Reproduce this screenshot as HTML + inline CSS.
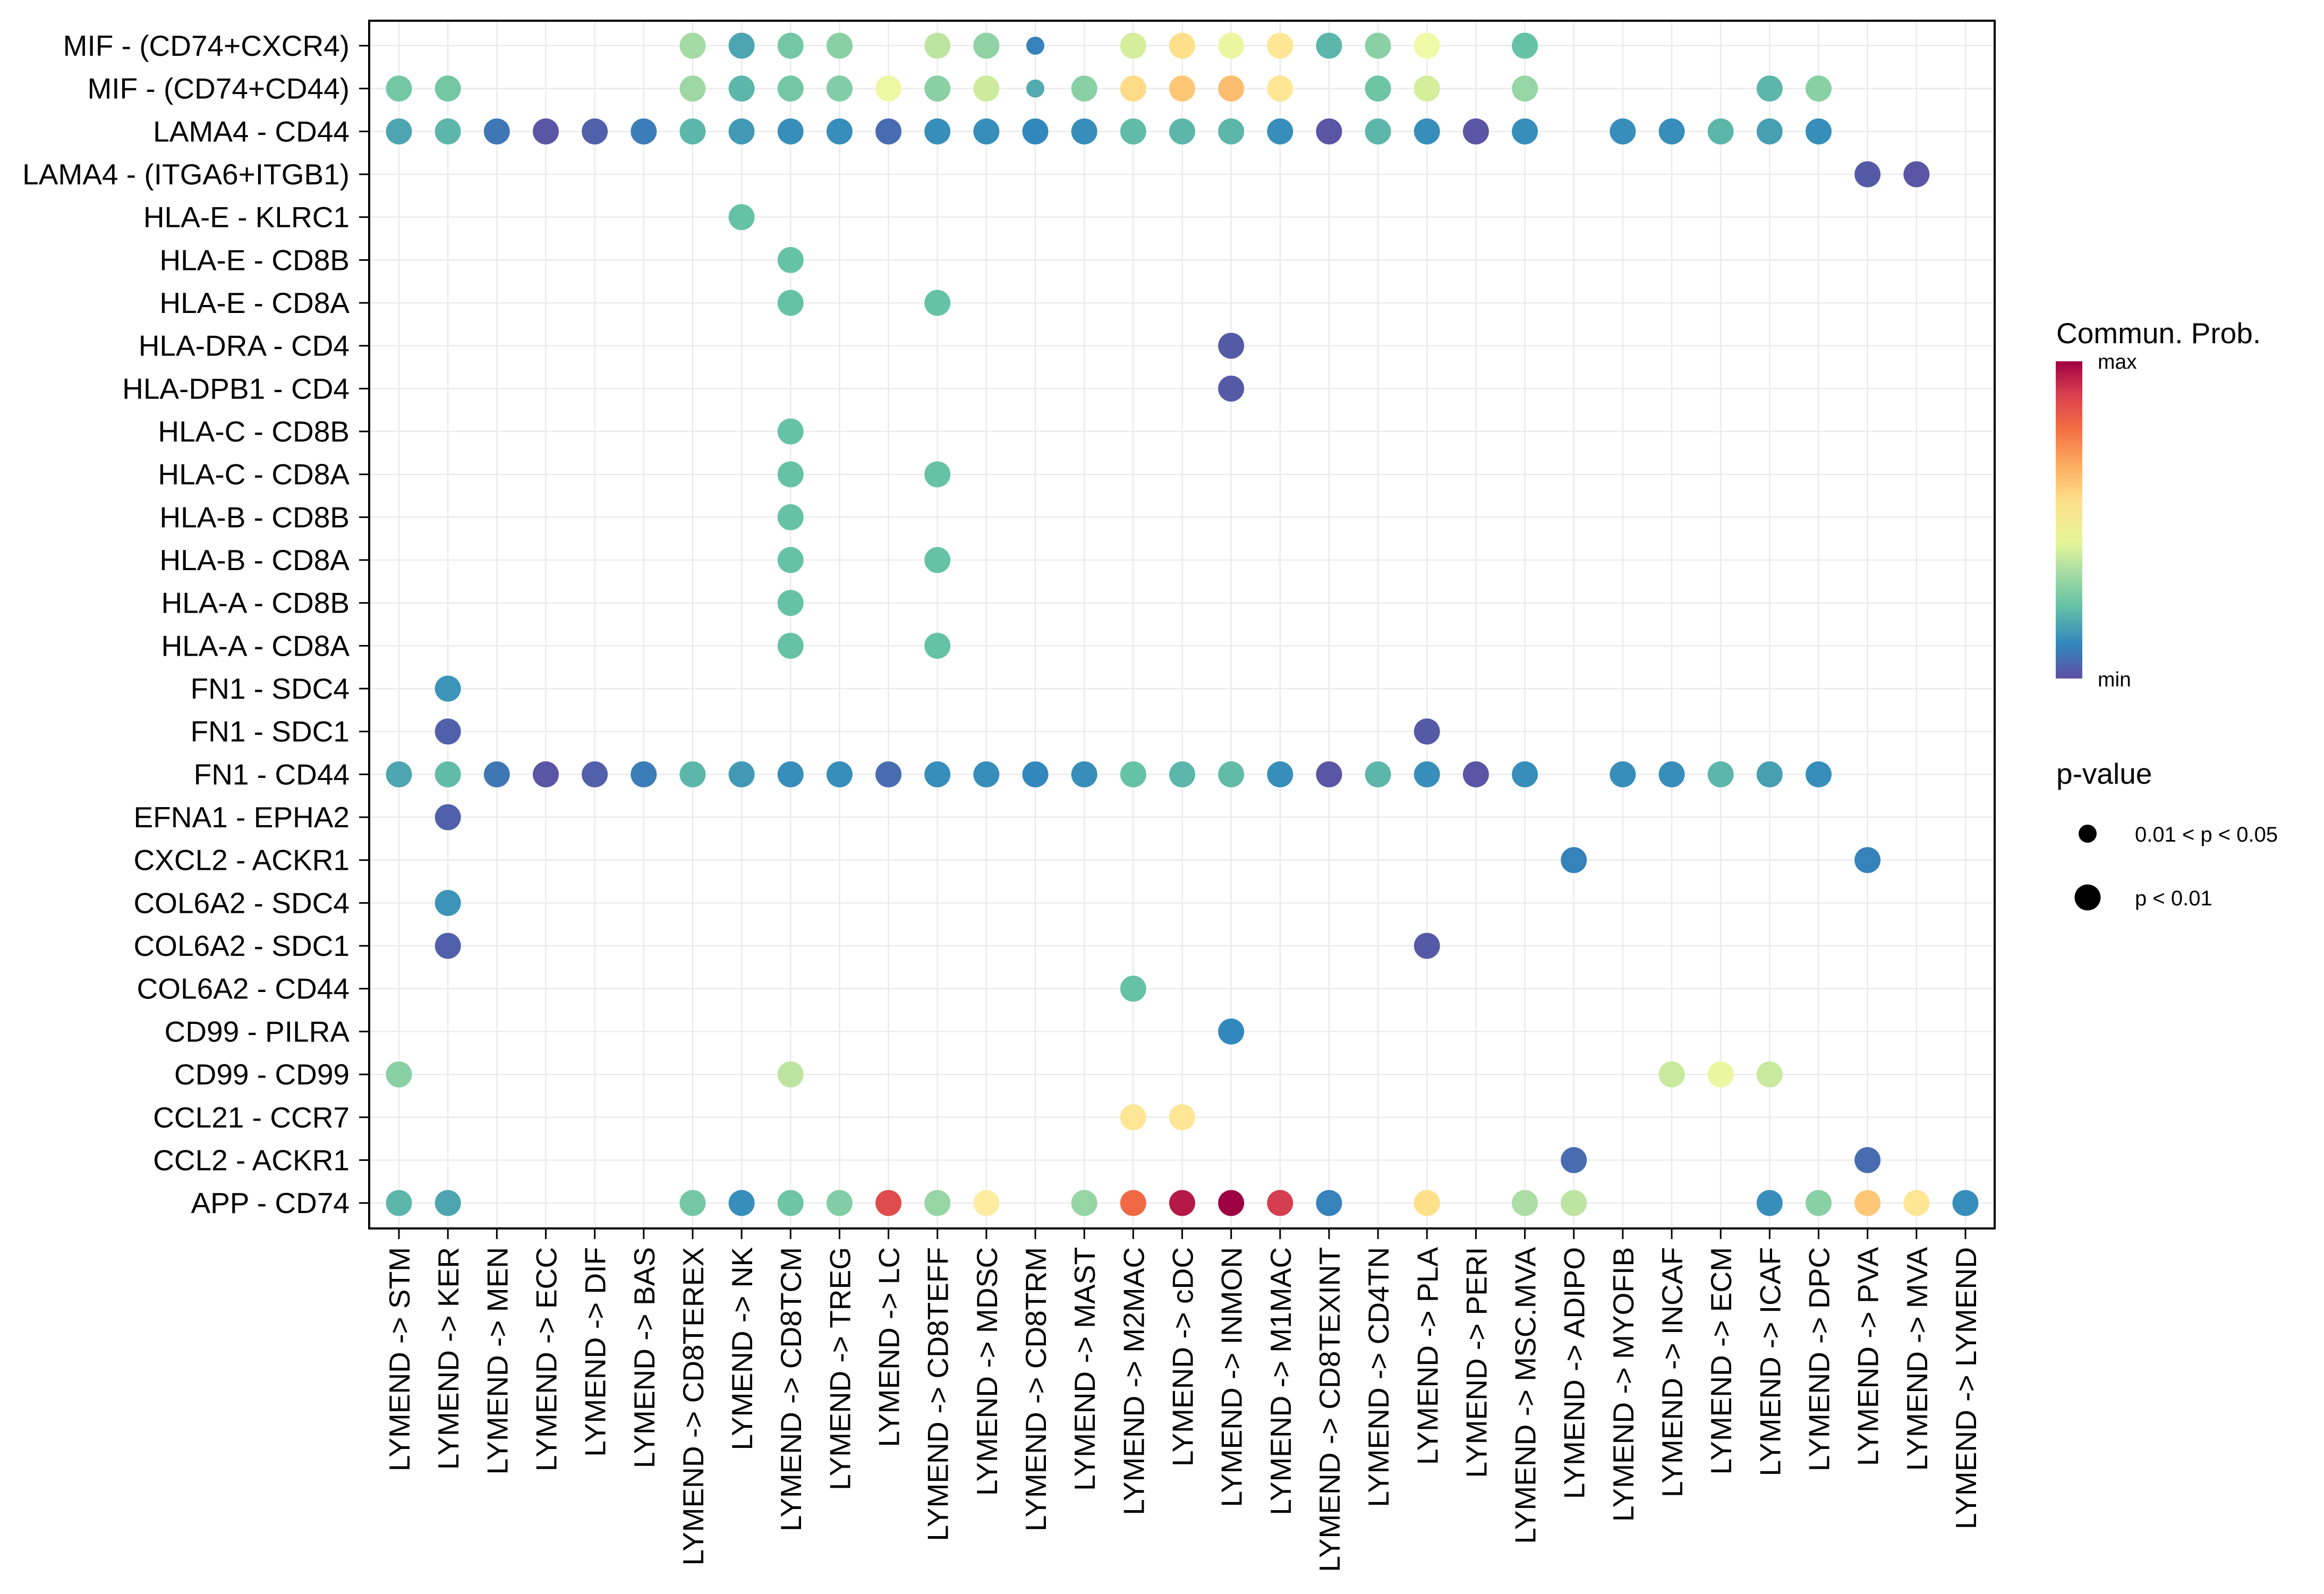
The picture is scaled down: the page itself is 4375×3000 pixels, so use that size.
<!DOCTYPE html>
<html><head><meta charset="utf-8"><style>
html,body{margin:0;padding:0;background:#fff;}
svg{display:block;font-family:"Liberation Sans",sans-serif;}
</style></head><body>
<svg id="chart" width="4375" height="3000" viewBox="0 0 4375 3000" xmlns="http://www.w3.org/2000/svg">
<defs>
<linearGradient id="spec" x1="0" y1="0" x2="0" y2="1">
<stop offset="0" stop-color="#9E0142"/><stop offset="0.1" stop-color="#D53E4F"/>
<stop offset="0.21" stop-color="#F46D43"/><stop offset="0.33" stop-color="#FDAE61"/>
<stop offset="0.44" stop-color="#FEE08B"/><stop offset="0.57" stop-color="#E6F598"/>
<stop offset="0.66" stop-color="#ABDDA4"/><stop offset="0.77" stop-color="#66C2A5"/>
<stop offset="0.89" stop-color="#3288BD"/><stop offset="1" stop-color="#5E4FA2"/>
</linearGradient>
</defs>
<g id="grid"></g>
<g id="dots"></g>
<rect x="695" y="39" width="3060" height="2273" fill="none" stroke="#000" stroke-width="4"/>
<g id="yaxis"></g>
<g id="xaxis"></g>
<g>
<text x="3871" y="646" font-size="55">Commun. Prob.</text>
<rect x="3870" y="680" width="50" height="597" fill="url(#spec)"/>
<text x="3949" y="694" font-size="39">max</text>
<text x="3949" y="1292" font-size="39">min</text>
</g>
<g>
<text x="3871" y="1475" font-size="55">p-value</text>
<circle cx="3930" cy="1569" r="17" fill="#000"/>
<text x="4019" y="1584" font-size="40">0.01 &lt; p &lt; 0.05</text>
<circle cx="3930" cy="1689" r="24.5" fill="#000"/>
<text x="4019" y="1704" font-size="40">p &lt; 0.01</text>
</g>
</svg>
<script>
const cols = ["STM","KER","MEN","ECC","DIF","BAS","CD8TEREX","NK","CD8TCM","TREG","LC","CD8TEFF","MDSC","CD8TRM","MAST","M2MAC","cDC","INMON","M1MAC","CD8TEXINT","CD4TN","PLA","PERI","MSC.MVA","ADIPO","MYOFIB","INCAF","ECM","ICAF","DPC","PVA","MVA","LYMEND"];
const rows = ["MIF - (CD74+CXCR4)","MIF - (CD74+CD44)","LAMA4 - CD44","LAMA4 - (ITGA6+ITGB1)","HLA-E - KLRC1","HLA-E - CD8B","HLA-E - CD8A","HLA-DRA - CD4","HLA-DPB1 - CD4","HLA-C - CD8B","HLA-C - CD8A","HLA-B - CD8B","HLA-B - CD8A","HLA-A - CD8B","HLA-A - CD8A","FN1 - SDC4","FN1 - SDC1","FN1 - CD44","EFNA1 - EPHA2","CXCL2 - ACKR1","COL6A2 - SDC4","COL6A2 - SDC1","COL6A2 - CD44","CD99 - PILRA","CD99 - CD99","CCL21 - CCR7","CCL2 - ACKR1","APP - CD74"];
const ptRow = [
0,0,0,0,0,0,0,0,0,0,0,0,0,0,0,
1,1,1,1,1,1,1,1,1,1,1,1,1,1,1,1,1,1,1,1,
2,2,2,2,2,2,2,2,2,2,2,2,2,2,2,2,2,2,2,2,2,2,2,2,2,2,2,2,2,
3,3,4,5,6,6,7,8,9,10,10,11,12,12,13,14,14,15,16,16,
17,17,17,17,17,17,17,17,17,17,17,17,17,17,17,17,17,17,17,17,17,17,17,17,17,17,17,17,17,
18,19,19,20,21,21,22,23,24,24,24,24,24,25,25,26,26,
27,27,27,27,27,27,27,27,27,27,27,27,27,27,27,27,27,27,27,27,27,27,27];
const ptCol = [
6,7,8,9,11,12,13,15,16,17,18,19,20,21,23,
0,1,6,7,8,9,10,11,12,13,14,15,16,17,18,20,21,23,28,29,
0,1,2,3,4,5,6,7,8,9,10,11,12,13,14,15,16,17,18,19,20,21,22,23,25,26,27,28,29,
30,31,7,8,8,11,17,17,8,8,11,8,8,11,8,8,11,1,1,21,
0,1,2,3,4,5,6,7,8,9,10,11,12,13,14,15,16,17,18,19,20,21,22,23,25,26,27,28,29,
1,24,30,1,1,21,15,17,0,8,26,27,28,15,16,24,30,
0,1,6,7,8,9,10,11,12,14,15,16,17,18,19,21,23,24,28,29,30,31,32];
const ptProb = [
0.29,0.15,0.22,0.25,0.33,0.26,0.09,0.37,0.60,0.42,0.58,0.18,0.25,0.44,0.20,
0.22,0.22,0.28,0.18,0.22,0.24,0.43,0.25,0.36,0.16,0.25,0.61,0.65,0.67,0.58,0.21,0.37,0.27,0.18,0.25,
0.15,0.18,0.07,0.01,0.03,0.08,0.18,0.13,0.11,0.11,0.05,0.11,0.11,0.10,0.11,0.19,0.18,0.18,0.11,0.01,0.18,0.11,0.01,0.11,0.11,0.11,0.18,0.14,0.11,
0.02,0.01,0.20,0.20,0.20,0.20,0.02,0.02,0.20,0.20,0.20,0.20,0.20,0.20,0.20,0.20,0.20,0.12,0.03,0.02,
0.15,0.19,0.07,0.01,0.03,0.08,0.18,0.13,0.11,0.11,0.05,0.11,0.11,0.10,0.11,0.20,0.18,0.19,0.11,0.01,0.18,0.11,0.01,0.11,0.11,0.11,0.18,0.14,0.11,
0.03,0.09,0.09,0.12,0.03,0.02,0.20,0.10,0.25,0.33,0.35,0.42,0.35,0.58,0.58,0.05,0.05,
0.18,0.15,0.22,0.11,0.21,0.24,0.87,0.27,0.56,0.27,0.81,0.96,1.00,0.90,0.09,0.60,0.30,0.33,0.11,0.25,0.65,0.58,0.11];
const ptPval = ptRow.map((r,i)=> (ptCol[i]===13 && (r===0||r===1)) ? 2 : 1);

const NS="http://www.w3.org/2000/svg";
const X0=751, DX=92.156, Y0=86, DY=80.67;
const xScale = c => X0 + c*DX;
const yScale = r => Y0 + r*DY;
const spectral = ["#5E4FA2","#3288BD","#66C2A5","#ABDDA4","#E6F598","#FFFFBF","#FEE08B","#FDAE61","#F46D43","#D53E4F","#9E0142"];
function hex(h){return [1,3,5].map(i=>parseInt(h.substr(i,2),16));}
function colorScale(t){
  t=Math.max(0,Math.min(1,t))*10; const i=Math.min(9,Math.floor(t)), f=t-i;
  const a=hex(spectral[i]), b=hex(spectral[i+1]);
  return "rgb("+a.map((v,k)=>Math.round(v+(b[k]-v)*f)).join(",")+")";
}
const sizeScale = p => p===1 ? 24.5 : 17;
function mk(tag,attrs,parent){const e=document.createElementNS(NS,tag);for(const k in attrs)e.setAttribute(k,attrs[k]);parent.appendChild(e);return e;}

const grid=document.getElementById("grid");
cols.forEach((c,i)=>{
  const l=mk("line",{x1:xScale(i),x2:xScale(i),y1:39,y2:2312,stroke:"#ebebeb","stroke-width":2.5},grid);
  
  
});
rows.forEach((r,i)=>{
  const l=mk("line",{x1:695,x2:3755,y1:yScale(i),y2:yScale(i),stroke:"#ebebeb","stroke-width":2.5},grid);
  
  
});
const yax=document.getElementById("yaxis");
rows.forEach((r,i)=>{
  const t=mk("line",{x1:676,x2:695,y1:yScale(i),y2:yScale(i),stroke:"#000","stroke-width":3},yax);
  
  
  const tx=mk("text",{x:658,y:yScale(i)+19,"text-anchor":"end","font-size":55},yax);
  tx.textContent=r;
  
  
});
const xax=document.getElementById("xaxis");
cols.forEach((c,i)=>{
  const x=xScale(i);
  const t=mk("line",{x1:x,x2:x,y1:2312,y2:2332,stroke:"#000","stroke-width":3},xax);
  
  
  const tx=mk("text",{x:0,y:0,"text-anchor":"end","font-size":55,transform:"translate("+(x+20)+",2347) rotate(-90)"},xax);
  tx.textContent="LYMEND -> "+c;
  
  
});
const dots=document.getElementById("dots");
ptRow.forEach((r,i)=>{
  const d=mk("circle",{cx:xScale(ptCol[i]),cy:yScale(r),r:sizeScale(ptPval[i]),fill:colorScale(ptProb[i])},dots);
  
  
});
</script>
</body></html>
